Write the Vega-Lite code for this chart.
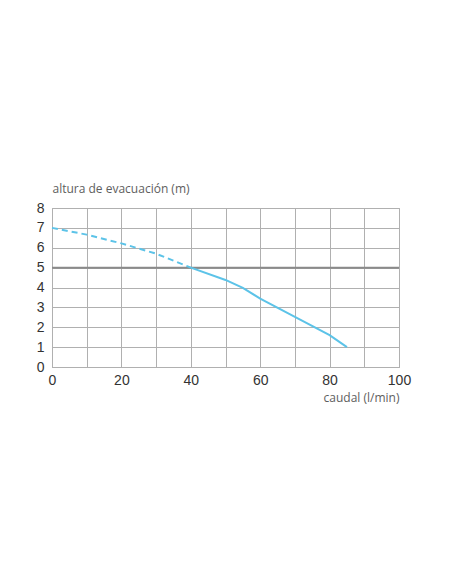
{
  "$schema": "https://vega.github.io/schema/vega-lite/v6.json",
  "width": 347,
  "height": 159,
  "autosize": {"type": "none"},
  "padding": {"left": 52, "top": 208, "right": 53, "bottom": 217},
  "background": "white",
  "config": {
    "view": {"stroke": "#b0b0b0", "strokeWidth": 1},
    "axis": {
      "labelFont": "Liberation Sans",
      "labelFontSize": 14,
      "labelColor": "#333333",
      "titleFont": "Open Sans",
      "titleFontSize": 12,
      "titleFontWeight": "normal",
      "titleColor": "#5e5e5e",
      "gridColor": "#b0b0b0",
      "gridOpacity": 1,
      "gridWidth": 1,
      "domainColor": "#b0b0b0",
      "ticks": false
    }
  },
  "data": {
    "values": [
      {"caudal": 0, "altura": 7.0, "tramo": "discontinuo"},
      {"caudal": 10, "altura": 6.66, "tramo": "discontinuo"},
      {"caudal": 20, "altura": 6.22, "tramo": "discontinuo"},
      {"caudal": 30, "altura": 5.7, "tramo": "discontinuo"},
      {"caudal": 40, "altura": 5.0, "tramo": "discontinuo"},
      {"caudal": 40, "altura": 5.0, "tramo": "continuo"},
      {"caudal": 50, "altura": 4.38, "tramo": "continuo"},
      {"caudal": 55, "altura": 3.98, "tramo": "continuo"},
      {"caudal": 60, "altura": 3.44, "tramo": "continuo"},
      {"caudal": 70, "altura": 2.52, "tramo": "continuo"},
      {"caudal": 80, "altura": 1.6, "tramo": "continuo"},
      {"caudal": 85, "altura": 1.0, "tramo": "continuo"}
    ]
  },
  "encoding": {
    "x": {
      "field": "caudal",
      "type": "quantitative",
      "scale": {"domain": [0, 100], "nice": false, "zero": false},
      "axis": {
        "values": [0, 10, 20, 30, 40, 50, 60, 70, 80, 90, 100],
        "labelExpr": "datum.value % 20 == 0 ? datum.label : ''",
        "labelFlush": false,
        "labelOverlap": false,
        "labelPadding": 6,
        "title": "caudal (l/min)",
        "titleX": 347,
        "titleAlign": "right",
        "titleY": 30,
        "titleBaseline": "middle"
      }
    },
    "y": {
      "field": "altura",
      "type": "quantitative",
      "scale": {"domain": [0, 8], "nice": false},
      "axis": {
        "values": [0, 1, 2, 3, 4, 5, 6, 7, 8],
        "labelFlush": false,
        "labelOverlap": false,
        "labelPadding": 8,
        "title": "altura de evacuación (m)",
        "titleAngle": 0,
        "titleX": 0,
        "titleY": -20,
        "titleAlign": "left",
        "titleBaseline": "middle"
      }
    }
  },
  "layer": [
    {
      "mark": {"type": "rule", "color": "#8a8a8a", "strokeWidth": 2},
      "data": {"values": [{"y": 5}]},
      "encoding": {"y": {"field": "y", "type": "quantitative"}, "x": null}
    },
    {
      "transform": [{"filter": "datum.tramo == 'discontinuo'"}],
      "mark": {"type": "line", "color": "#5cc3e8", "strokeWidth": 2, "strokeDash": [6, 4]}
    },
    {
      "transform": [{"filter": "datum.tramo == 'continuo'"}],
      "mark": {"type": "line", "color": "#5cc3e8", "strokeWidth": 2}
    }
  ]
}
